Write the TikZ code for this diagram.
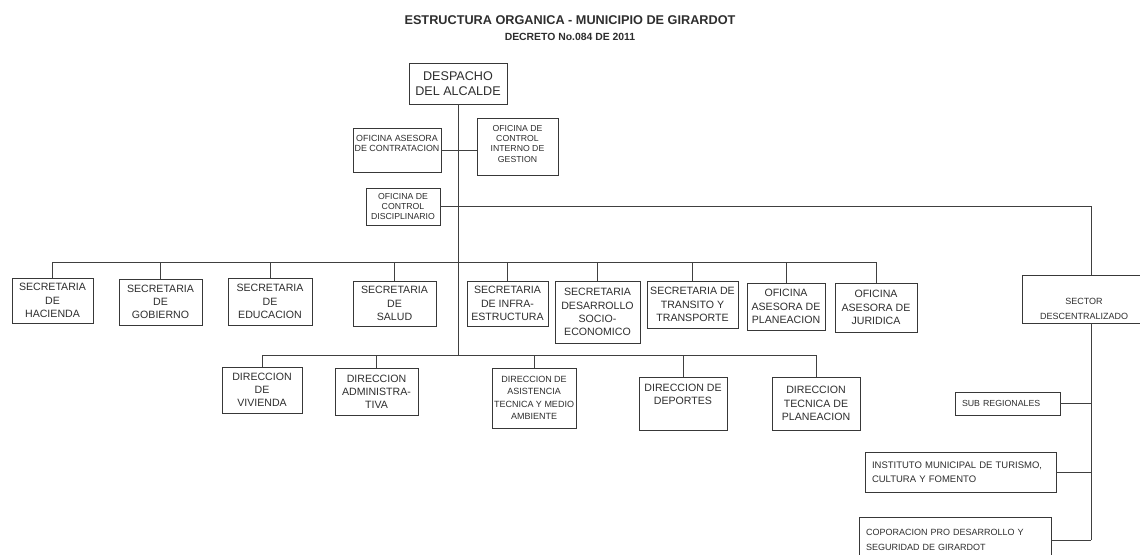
\documentclass[tikz,border=0pt]{standalone}
\usepackage{fontspec}
\setmainfont{Liberation Sans}
\begin{document}
\begin{tikzpicture}[x=1pt,y=-1pt,
  box/.style={draw=black!78, line width=0.9pt, rectangle, inner sep=2pt, align=center, text=black!82},
  fsec/.style={font=\fontsize{10.6}{13.2}\selectfont},
  fofi/.style={font=\fontsize{8.7}{10.4}\selectfont},
  conn/.style={draw=black!75, line width=0.9pt},
  toptext/.style n args={2}{label={[anchor=north, yshift=-4pt, align=center, text=black!82, font=#1]north:{#2}}}
]
\useasboundingbox (0,0) rectangle (1140,554);
\fill[white] (0,0) rectangle (1140,554);
\clip (0,0) rectangle (1140,554);

% titles
\node[font=\bfseries\fontsize{12.7}{14}\selectfont, text=black!82] (title) at (570,20) {ESTRUCTURA ORGANICA - MUNICIPIO DE GIRARDOT};
\node[font=\bfseries\fontsize{10.4}{12}\selectfont, text=black!82] (subtitle) at (570,37) {DECRETO No.084 DE 2011};

% top
\node[box, font=\fontsize{12.6}{15.5}\selectfont, minimum width=98pt, minimum height=41pt] (desp) at (458,83.5) {DESPACHO\\DEL ALCALDE};
\node[box, minimum width=88pt, minimum height=44pt, toptext={\fontsize{8.9}{10.4}\selectfont}{OFICINA ASESORA\\DE CONTRATACION}] (ase) at (397,150) {};
\node[box, minimum width=81pt, minimum height=57pt, toptext={\fontsize{8.7}{10.4}\selectfont}{OFICINA DE\\CONTROL\\INTERNO DE\\GESTION}] (cig) at (517.5,146.5) {};
\node[box, fofi, minimum width=74pt, minimum height=37pt] (dis) at (403,206.5) {OFICINA DE\\CONTROL\\DISCIPLINARIO};

% secretarias
\node[box, fsec, minimum width=81pt, minimum height=45pt] (hac) at (52.5,300.5) {SECRETARIA\\DE\\HACIENDA};
\node[box, fsec, minimum width=83pt, minimum height=46pt] (gob) at (160.5,302) {SECRETARIA\\DE\\GOBIERNO};
\node[box, fsec, minimum width=84pt, minimum height=47pt] (edu) at (270,301.5) {SECRETARIA\\DE\\EDUCACION};
\node[box, fsec, minimum width=83pt, minimum height=45pt] (sal) at (394.5,303.5) {SECRETARIA\\DE\\SALUD};
\node[box, fsec, minimum width=81pt, minimum height=45pt] (inf) at (507.5,303.5) {SECRETARIA\\DE INFRA-\\ESTRUCTURA};
\node[box, fsec, minimum width=85pt, minimum height=62pt] (des) at (597.5,312) {SECRETARIA\\DESARROLLO\\SOCIO-\\ECONOMICO};
\node[box, fsec, minimum width=91pt, minimum height=47pt] (tra) at (692.5,304.5) {SECRETARIA DE\\TRANSITO Y\\TRANSPORTE};
\node[box, fsec, minimum width=78pt, minimum height=47pt] (pla) at (786,306.5) {OFICINA\\ASESORA DE\\PLANEACION};
\node[box, fsec, minimum width=82pt, minimum height=49pt] (jur) at (876,307.5) {OFICINA\\ASESORA DE\\JURIDICA};

% direcciones
\node[box, fsec, minimum width=80pt, minimum height=46pt] (viv) at (262,390) {DIRECCION\\DE\\VIVIENDA};
\node[box, fsec, minimum width=83pt, minimum height=47pt] (adm) at (376.5,391.5) {DIRECCION\\ADMINISTRA-\\TIVA};
\node[box, font=\fontsize{9}{12.5}\selectfont, minimum width=82pt, minimum height=60pt] (asi) at (534,398) {DIRECCION DE\\ASISTENCIA\\TECNICA Y MEDIO\\AMBIENTE};
\node[box, minimum width=88pt, minimum height=53pt, toptext={\fontsize{10.6}{13.2}\selectfont}{DIRECCION DE\\DEPORTES}] (dep) at (683,403.5) {};
\node[box, fsec, minimum width=88pt, minimum height=53pt] (dtp) at (816,403.5) {DIRECCION\\TECNICA DE\\PLANEACION};

% sector descentralizado
\node[box, minimum width=124pt, minimum height=48pt,
  label={[anchor=center, yshift=-10pt, align=center, text=black!82, font=\fontsize{9}{15}\selectfont]center:{SECTOR\\DESCENTRALIZADO}}] (sec) at (1084,299) {};
\node[box, font=\fontsize{8.8}{11}\selectfont, minimum width=105pt, minimum height=23pt, align=left, text width=91pt, inner xsep=7pt] (sub) at (1007.5,403.5) {SUB REGIONALES};
\node[box, font=\fontsize{9.5}{14.5}\selectfont, minimum width=191pt, minimum height=40pt, align=left, text width=177pt, inner xsep=7pt] (ins) at (960.5,472) {INSTITUTO MUNICIPAL DE TURISMO,\\CULTURA Y FOMENTO};
\node[box, font=\fontsize{9}{14.5}\selectfont, minimum width=192pt, minimum height=46pt, align=left, text width=178pt, inner xsep=7pt] (cop) at (955,540) {COPORACION PRO DESARROLLO Y\\SEGURIDAD DE GIRARDOT};

% helper coordinates
\coordinate (sbus) at (458,262);
\coordinate (dbus) at (458,355);
\coordinate (sx) at (1091,0);

% main trunk
\draw[conn] (desp.south) -- (desp.south |- dbus);
\draw[conn] (ase.east) -- (ase.east -| cig.west);
\draw[conn] (dis.east) -| (sx |- sec.north);

% secretaria bus
\draw[conn] (hac.north) -- (hac.north |- sbus) -- (jur.north |- sbus) -- (jur.north);
\foreach \n in {gob,edu,sal,inf,des,tra,pla}{
  \draw[conn] (\n.north) -- (\n.north |- sbus);
}

% direccion bus
\draw[conn] (viv.north) -- (viv.north |- dbus) -- (dtp.north |- dbus) -- (dtp.north);
\foreach \n in {adm,asi,dep}{
  \draw[conn] (\n.north) -- (\n.north |- dbus);
}

% sector children
\draw[conn] (sx |- sec.south) -- (sx |- cop.east);
\draw[conn] (sub.east) -- (sub.east -| sx);
\draw[conn] (ins.east) -- (ins.east -| sx);
\draw[conn] (cop.east) -- (cop.east -| sx);
\end{tikzpicture}
\end{document}
